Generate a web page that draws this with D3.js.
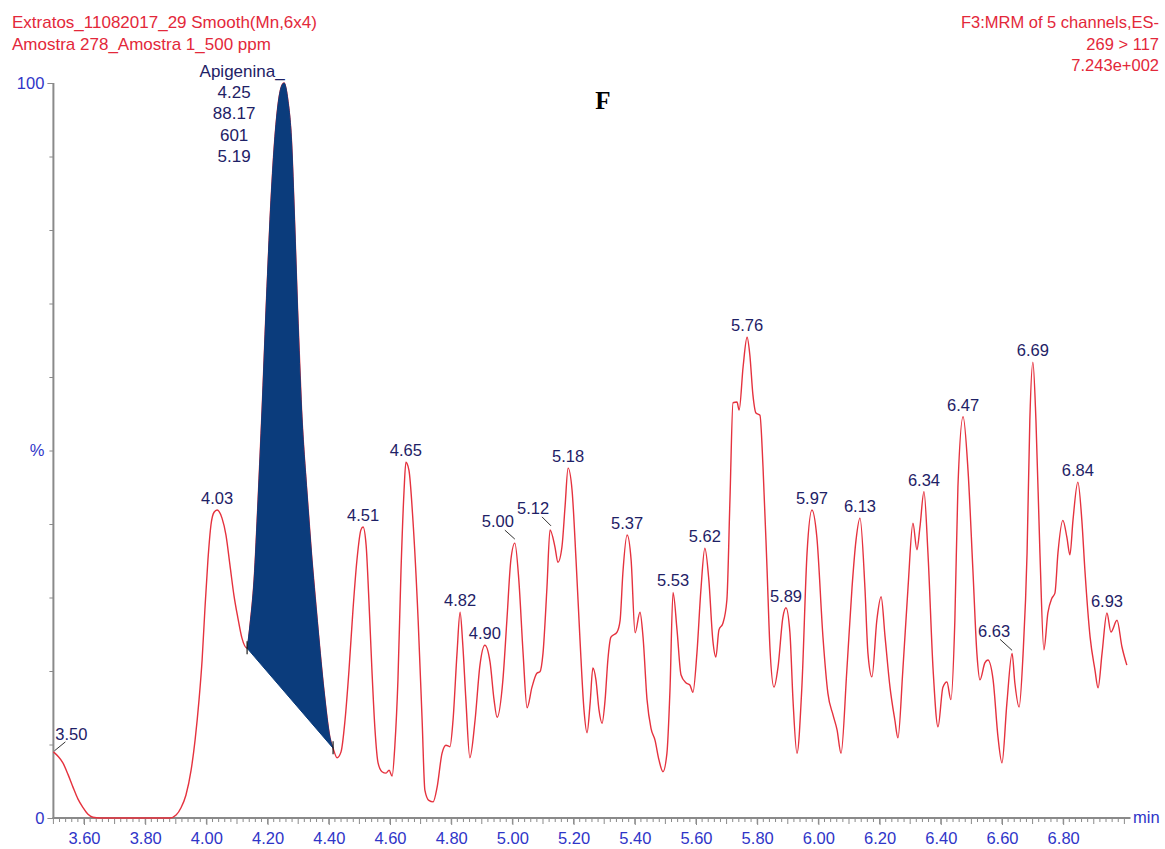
<!DOCTYPE html>
<html><head><meta charset="utf-8">
<script src="https://cdn.jsdelivr.net/npm/d3@7"></script>
<style>body{margin:0;background:#fff}svg{display:block}</style>
</head><body>
<svg id="c" width="1165" height="849"></svg>
<script>
// ---------- DATA ----------
const headerLeft = ["Extratos_11082017_29 Smooth(Mn,6x4)", "Amostra 278_Amostra 1_500 ppm"];
const headerRight = ["F3:MRM of 5 channels,ES-", "269 > 117", "7.243e+002"];
const panelLetter = "F";
const xTickLabels = ["3.60","3.80","4.00","4.20","4.40","4.60","4.80","5.00","5.20","5.40","5.60","5.80","6.00","6.20","6.40","6.60","6.80"];
const yTickLabels = ["0", "%", "100"];
const yTickValues = [0, 50, 100];
const xUnit = "min";
const compoundInfo = ["Apigenina_", "4.25", "88.17", "601", "5.19"];
const integrationStart = 4.133, integrationEnd = 4.414;

const times = [
3.500,3.515,3.531,3.548,3.564,3.580,3.597,3.613,3.629,3.652,3.881,3.901,3.917,3.933,3.950,3.963,3.976,3.986,3.995,4.005,
4.015,4.025,4.035,4.051,4.064,4.077,4.090,4.103,4.116,4.133,
4.143,4.156,4.169,4.182,4.195,4.208,4.221,4.234,4.245,4.254,4.266,4.278,4.288,4.298,4.311,4.328,4.345,4.365,4.384,4.404,4.414,
4.427,4.440,4.453,4.466,4.479,4.492,4.505,4.512,4.522,4.531,4.541,4.551,4.561,4.574,4.587,4.597,4.607,4.616,4.626,4.636,
4.646,4.652,4.662,4.675,4.692,4.705,4.714,4.727,4.741,4.754,4.770,4.783,4.796,4.806,4.819,4.829,4.838,4.848,4.861,4.878,
4.894,4.910,4.927,4.940,4.950,4.969,4.982,4.995,5.008,5.021,5.035,5.048,5.064,5.080,5.090,5.100,5.113,5.123,5.139,5.149,
5.162,5.172,5.182,5.195,5.208,5.221,5.234,5.244,5.254,5.263,5.273,5.283,5.293,5.303,5.312,5.322,5.342,5.352,5.361,5.375,
5.388,5.401,5.417,5.427,5.440,5.453,5.466,5.479,5.492,5.505,5.515,5.525,5.538,5.551,5.567,5.580,5.590,5.603,5.616,5.629,
5.642,5.655,5.665,5.675,5.688,5.701,5.711,5.721,5.734,5.741,5.754,5.767,5.776,5.786,5.796,5.809,5.819,5.832,5.842,5.855,
5.868,5.884,5.894,5.907,5.917,5.930,5.946,5.963,5.979,5.995,6.015,6.031,6.048,6.061,6.074,6.093,6.110,6.123,6.136,6.152,
6.162,6.175,6.191,6.205,6.218,6.234,6.250,6.260,6.276,6.293,6.309,6.322,6.332,6.345,6.358,6.375,6.391,6.407,6.420,6.433,
6.446,6.456,6.473,6.489,6.505,6.518,6.528,6.544,6.554,6.571,6.587,6.600,6.616,6.633,6.642,6.656,6.669,6.682,6.691,6.701,
6.711,6.724,6.737,6.750,6.763,6.773,6.783,6.799,6.812,6.822,6.832,6.848,6.861,6.871,6.888,6.904,6.914,6.927,6.943,6.956,
6.976,6.992,7.008];

const intensity = [
9.0,8.4,7.5,5.9,4.2,2.6,1.4,0.5,0.1,0,0,0.4,1.4,3.1,6.5,10.6,16.1,21.5,28.3,35.1,
39.9,41.6,41.9,40.8,38.5,34.4,30.3,27.2,24.5,23.1,
26.4,32.4,43.3,55.5,69.1,81.4,90.9,97.0,99.5,100,97.7,92.2,81.4,69.1,55.5,44.6,35.1,25.6,17.4,10.9,9.5,
8.2,9.0,13.3,20.1,28.3,35.1,39.2,39.6,37.1,29.7,20.1,12.0,7.5,6.3,6.1,6.5,5.7,9.9,18.8,33.7,
44.6,48.4,47.3,40.5,26.9,13.3,3.8,2.4,2.2,4.2,8.8,9.9,9.7,13.3,22.4,28.0,23.5,16.1,8.2,13.3,
20.8,23.5,21.2,16.1,13.7,18.8,26.9,35.1,37.4,32.4,22.4,15.0,17.8,19.7,19.9,22.4,31.4,39.2,36.9,34.8,
36.9,42.3,47.6,44.6,35.1,24.2,14.7,11.6,15.6,20.4,18.8,14.7,12.9,16.1,21.5,24.6,25.3,26.9,33.3,38.5,
35.1,25.2,28.0,24.6,16.1,12.2,10.6,7.9,6.3,8.8,17.4,30.7,25.6,19.5,18.4,18.1,17.1,22.4,31.0,36.7,
32.4,24.2,21.9,25.6,26.5,29.7,43.3,56.5,56.6,55.5,61.4,65.4,63.0,57.6,55.1,54.8,47.8,34.1,22.9,17.8,
20.5,27.3,28.6,25.2,16.1,8.8,17.8,36.1,41.9,38.2,24.6,17.0,14.0,12.0,8.8,20.1,31.4,37.8,40.8,31.4,
22.4,19.2,26.9,30.1,24.6,17.8,13.3,10.9,20.1,31.4,40.1,36.5,39.6,44.4,36.1,20.1,12.4,17.8,18.5,16.1,
26.9,45.0,54.6,47.3,33.7,22.4,18.8,21.1,21.5,18.8,11.0,7.5,15.6,22.4,18.4,15.1,22.4,36.1,54.1,62.0,
54.1,36.1,22.9,27.9,29.9,30.6,36.1,40.5,38.2,35.8,40.5,45.7,40.5,33.7,24.6,20.1,17.7,22.4,27.9,25.3,
26.9,23.3,20.8];

const peakLabels = ["3.50","4.03","4.51","4.65","4.82","4.90","5.00","5.12","5.18","5.37","5.53","5.62","5.76","5.89","5.97","6.13","6.34","6.47","6.63","6.69","6.84","6.93"];

// ---------- STYLE / LAYOUT ----------
const C = {
  trace: "#e5323e", header: "#e3283a", peakText: "#1e2166", tick: "#2f35c8",
  axis: "#8a8a8a", fill: "#0b3c7c"
};
const FONT = "'Liberation Sans', Arial, sans-serif";
const leaderStyle = {
  "3.50": {dx: 18, dy: -12, l: [1, -1, 12, -10]},
  "5.00": {dx: -17, dy: -16, l: [-10, -13, 0, -4]},
  "5.12": {dx: -17, dy: -16, l: [-8, -13, 1, -4]},
  "6.63": {dx: -18, dy: -16, l: [-12, -14, 0, -3]}
};

const svg = d3.select("#c");
const x = d3.scaleLinear().domain([3.5, 7.02]).range([53.4, 1130.5]);
const y = d3.scaleLinear().domain([0, 100]).range([818, 83]);
const pts = times.map((t, i) => ({t, v: intensity[i]}));

// headers
svg.append("g").selectAll("text").data(headerLeft).join("text")
  .attr("x", 12).attr("y", (d, i) => 28 + i * 22)
  .attr("fill", C.header).style("font", `17px ${FONT}`).text(d => d);
svg.append("g").selectAll("text").data(headerRight).join("text")
  .attr("x", 1159).attr("y", (d, i) => 28 + i * 21.5).attr("text-anchor", "end")
  .attr("fill", C.header).style("font", `16.5px ${FONT}`).text(d => d);
svg.append("text").attr("x", 603).attr("y", 109).attr("text-anchor", "middle")
  .style("font", "bold 25px 'Liberation Serif', 'Times New Roman', serif").attr("fill", "#000").text(panelLetter);

// x axis
const majorT = xTickLabels.map(Number);
const minorT = d3.range(0, 176).map(i => +(3.5 + i * 0.02).toFixed(2)).filter(t => t <= 7.01);
const gx = svg.append("g").attr("transform", `translate(0,${y(0)})`);
gx.append("g").selectAll("line").data(minorT).join("line")
  .attr("x1", d => x(d)).attr("x2", d => x(d)).attr("y1", 1)
  .attr("y2", d => Math.abs(d * 10 - Math.round(d * 10)) < 1e-6 ? 6 : 4)
  .attr("stroke", C.axis).attr("stroke-width", 1);
const axX = d3.axisBottom(x).tickValues(majorT).tickSize(7).tickFormat((d, i) => xTickLabels[i]);
gx.call(axX);
gx.select(".domain").remove();
gx.selectAll(".tick line").attr("stroke", C.axis);
gx.selectAll(".tick text").attr("fill", C.tick).attr("dy", 0).attr("y", 26).style("font", `16.5px ${FONT}`);
svg.append("line").attr("x1", x(3.5) - 1).attr("x2", x(7.02)).attr("y1", y(0)).attr("y2", y(0))
  .attr("stroke", C.axis).attr("stroke-width", 2);
svg.append("text").attr("x", 1133).attr("y", 823).attr("fill", C.tick)
  .style("font", `16.5px ${FONT}`).text(xUnit);

// y axis
const gy = svg.append("g").attr("transform", `translate(${x(3.5)},0)`);
const axY = d3.axisLeft(y).tickValues(d3.range(0, 101, 10)).tickSize(4)
  .tickFormat(d => { const k = yTickValues.indexOf(d); return k >= 0 ? yTickLabels[k] : ""; });
gy.call(axY);
gy.select(".domain").remove();
gy.selectAll(".tick line").attr("stroke", C.axis).attr("x2", d => (d === 0 || d === 100) ? -6 : -4);
gy.selectAll(".tick text").attr("fill", C.tick).attr("x", -9).style("font", `16.5px ${FONT}`);
svg.append("line").attr("x1", x(3.5)).attr("x2", x(3.5)).attr("y1", y(100)).attr("y2", y(0))
  .attr("stroke", C.axis).attr("stroke-width", 2);

// trace
const line = d3.line().x(d => x(d.t)).y(d => y(d.v)).curve(d3.curveMonotoneX);
svg.append("path").datum(pts).attr("d", line)
  .attr("fill", "none").attr("stroke", C.trace).attr("stroke-width", 1.4);

// integrated peak
const ip = pts.filter(d => d.t >= integrationStart - 1e-9 && d.t <= integrationEnd + 1e-9);
svg.append("path").attr("d", line(ip) + "Z").attr("fill", C.fill).attr("stroke", C.fill).attr("stroke-width", 1);
[ip[0], ip[ip.length - 1]].forEach(d => {
  svg.append("line").attr("x1", x(d.t)).attr("x2", x(d.t)).attr("y1", y(d.v) - 7).attr("y2", y(d.v) + 6)
    .attr("stroke", "#1a1a1a").attr("stroke-width", 1.2);
});

// compound info block
const apex = ip.reduce((a, b) => b.v > a.v ? b : a);
svg.append("g").selectAll("text").data(compoundInfo).join("text")
  .attr("x", (d, i) => x(apex.t) - (i === 0 ? 42 : 50)).attr("y", (d, i) => 77 + i * 21.2)
  .attr("text-anchor", "middle").attr("fill", C.peakText).style("font", `17px ${FONT}`).text(d => d);

// peak labels
const gl = svg.append("g");
peakLabels.forEach(lbl => {
  const t = +lbl;
  const near = pts.filter(d => Math.abs(d.t - t) <= 0.013);
  const p = near.reduce((a, b) => b.v > a.v ? b : a);
  const px = x(p.t), py = y(p.v);
  const s = leaderStyle[lbl] || {dx: 0, dy: -6};
  gl.append("text").attr("x", px + s.dx).attr("y", py + s.dy).attr("text-anchor", "middle")
    .attr("fill", C.peakText).style("font", `16.5px ${FONT}`).text(lbl);
  if (s.l) gl.append("line").attr("x1", px + s.l[0]).attr("y1", py + s.l[1]).attr("x2", px + s.l[2]).attr("y2", py + s.l[3])
    .attr("stroke", "#333").attr("stroke-width", 1);
});
</script>
</body></html>
